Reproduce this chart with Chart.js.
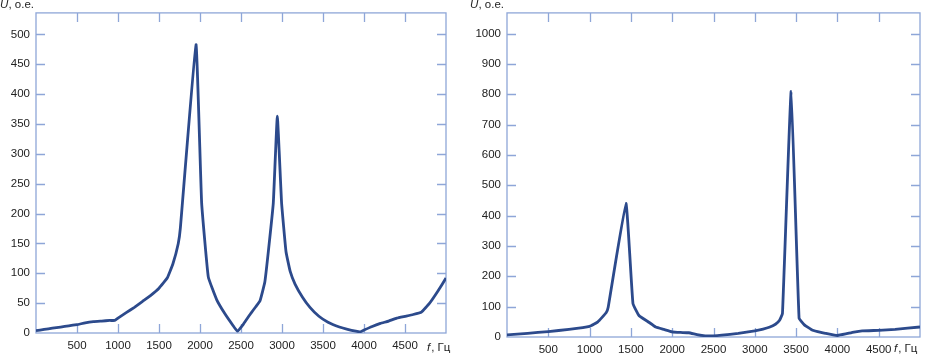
<!DOCTYPE html>
<html>
<head>
<meta charset="utf-8">
<script src="https://cdn.jsdelivr.net/npm/chart.js@4.4.0/dist/chart.umd.min.js"></script>
<style>
  body { margin: 0; background: #fff; }
  .box { position: absolute; top: 0; height: 354px; }
</style>
</head>
<body>
<div class="box" style="left:0;width:460px"><canvas id="chartLeft"></canvas></div>
<div class="box" style="left:460px;width:466px"><canvas id="chartRight"></canvas></div>
<script>
// left spectrum
const leftFreq = [0, 100, 200, 300, 400, 500, 600, 700, 800, 900, 960, 1000, 1100, 1200, 1300, 1400, 1500, 1600, 1670, 1735, 1760, 1951, 2020, 2101, 2203, 2300, 2400, 2455, 2530, 2620, 2680, 2732, 2790, 2833, 2894, 2943, 2995, 3049, 3100, 3159, 3250, 3341, 3450, 3561, 3700, 3800, 3900, 3955, 4000, 4100, 4200, 4300, 4400, 4500, 4600, 4700, 4800, 4900, 5000];
const leftU = [4, 6, 8, 10, 12, 14, 17, 19, 20, 21, 21, 25, 34, 43, 53, 63, 75, 92, 116, 150, 175, 483, 218, 94, 56, 33, 13, 3, 15, 33, 44, 54, 85, 136, 218, 363, 218, 136, 103, 82, 60, 43, 28, 18, 10, 6, 3, 2, 5, 11, 16, 20, 25, 28, 31, 35, 50, 70, 92];

// right spectrum
const rightFreq = [0, 250, 500, 750, 1000, 1100, 1200, 1225, 1440, 1525, 1600, 1700, 1800, 1900, 2000, 2100, 2200, 2300, 2400, 2500, 2600, 2800, 3000, 3100, 3175, 3250, 3300, 3335, 3440, 3536, 3600, 3700, 3800, 3861, 3950, 4000, 4100, 4200, 4300, 4500, 4700, 5000];
const rightU = [7, 12, 18, 25, 35, 50, 80, 98, 440, 110, 70, 52, 33, 25, 17, 15, 14, 8, 4, 4, 6, 12, 20, 26, 32, 42, 55, 78, 809, 62, 40, 22, 15, 12, 7, 5, 10, 16, 20, 22, 25, 33];

const xTicks = [500, 1000, 1500, 2000, 2500, 3000, 3500, 4000, 4500];

const frame = {
    id: 'frame',
    beforeDatasetsDraw(chart, args, opts) {
        const { ctx, chartArea: a, scales: { x, y } } = chart;
        ctx.save();
        ctx.strokeStyle = '#8ea6d8';
        ctx.lineWidth = 1.3;
        ctx.strokeRect(a.left, a.top, a.right - a.left, a.bottom - a.top);
        ctx.beginPath();
        x.ticks.forEach(t => {
            if (t.value <= x.min || t.value >= x.max) return;
            const px = Math.round(x.getPixelForValue(t.value)) + 0.5;
            ctx.moveTo(px, a.bottom); ctx.lineTo(px, a.bottom - 9);
            ctx.moveTo(px, a.top); ctx.lineTo(px, a.top + 9);
        });
        y.ticks.forEach(t => {
            if (t.value <= y.min || t.value >= y.max) return;
            const py = Math.round(y.getPixelForValue(t.value)) + 0.5;
            ctx.moveTo(a.left, py); ctx.lineTo(a.left + 9, py);
            ctx.moveTo(a.right, py); ctx.lineTo(a.right - 9, py);
        });
        ctx.stroke();
        ctx.restore();
    },
    afterDraw(chart, args, opts) {
        const { ctx, chartArea: a } = chart;
        ctx.save();
        ctx.fillStyle = '#222';
        ctx.textBaseline = 'alphabetic';
        const it = 'italic 11.5px "Liberation Sans", Arial, sans-serif';
        const up = '11.5px "Liberation Sans", Arial, sans-serif';
        // y axis title, right-aligned to the axis
        ctx.font = up;
        const wRest = ctx.measureText(', о.е.').width;
        ctx.font = it;
        const wU = ctx.measureText('U').width;
        let sx = a.left - opts.yTitleGap - wRest - wU;
        ctx.fillText('U', sx, opts.yTitleY);
        ctx.font = up;
        ctx.fillText(', о.е.', sx + wU, opts.yTitleY);
        // x axis title under the right border
        const fx = a.right - opts.xTitleBack;
        ctx.font = it;
        const wf = ctx.measureText('f').width;
        ctx.fillText('f', fx, opts.xTitleY);
        ctx.font = up;
        ctx.fillText(', Гц', fx + wf + 1, opts.xTitleY);
        ctx.restore();
    }
};

function makeChart(id, freq, vals, yMax, yStep, yWidth, xHeight, pad, titles) {
    const points = freq.map((f, i) => ({ x: f, y: vals[i] }));
    return new Chart(document.getElementById(id).getContext('2d'), {
        type: 'line',
        data: {
            datasets: [{
                data: points,
                borderColor: '#2c4a8c',
                borderWidth: 2.8,
                pointRadius: 0,
                tension: 0.1,
                fill: false
            }]
        },
        options: {
            responsive: true,
            maintainAspectRatio: false,
            animation: false,
            layout: { padding: pad },
            plugins: { legend: { display: false }, tooltip: { enabled: false }, frame: titles },
            scales: {
                x: {
                    type: 'linear',
                    min: 0,
                    max: 5000,
                    afterBuildTicks: s => { s.ticks = [0].concat(xTicks, [5000]).map(v => ({ value: v })); },
                    afterFit: s => { s.height = xHeight; },
                    grid: { display: false, drawTicks: false },
                    border: { display: false },
                    ticks: {
                        padding: 6,
                        maxRotation: 0,
                        autoSkip: false,
                        color: '#222',
                        font: { family: '"Liberation Sans", Arial, sans-serif', size: 11.5 },
                        callback: v => (v === 0 || v === 5000) ? '' : String(v)
                    }
                },
                y: {
                    min: 0,
                    max: yMax,
                    afterBuildTicks: s => { s.ticks = s.ticks.filter(t => t.value % yStep === 0); },
                    afterFit: s => { s.width = yWidth; },
                    grid: { display: false, drawTicks: false },
                    border: { display: false },
                    ticks: {
                        stepSize: yStep,
                        padding: 6,
                        color: '#222',
                        font: { family: '"Liberation Sans", Arial, sans-serif', size: 11.5 },
                        callback: v => String(v)
                    }
                }
            }
        },
        plugins: [frame]
    });
}

makeChart('chartLeft', leftFreq, leftU, 536, 50, 36, 21, { top: 6, right: 14, left: 0, bottom: 0 },
    { yTitleGap: 2, yTitleY: 8, xTitleBack: 19, xTitleY: 351 });
makeChart('chartRight', rightFreq, rightU, 1068, 100, 47, 17, { top: 7, right: 6, left: 0, bottom: 0 },
    { yTitleGap: 3, yTitleY: 8, xTitleBack: 26, xTitleY: 352 });
</script>
</body>
</html>
